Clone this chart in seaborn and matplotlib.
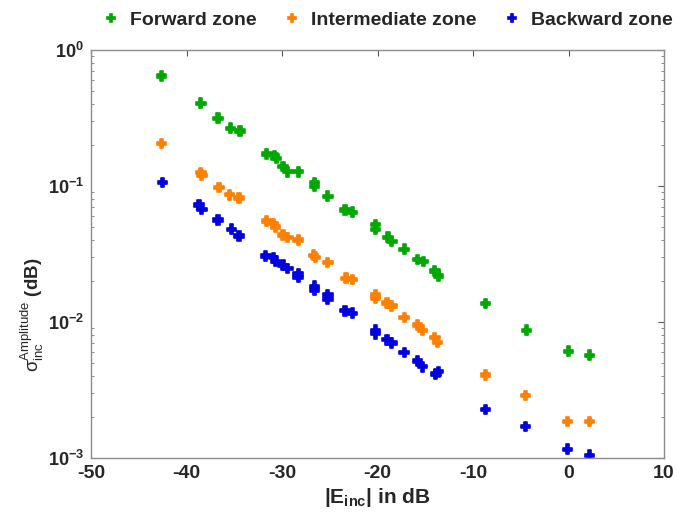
import numpy as np
import pandas as pd
import matplotlib
matplotlib.use("Agg")
import matplotlib.pyplot as plt
from matplotlib.ticker import FixedLocator, FuncFormatter, LogLocator, NullFormatter
import seaborn as sns

# Incident field level (dB) and amplitude spread per zone
fwd_x = [-42.6, -38.5, -36.7, -35.4, -34.4, -31.6, -30.8, -30.6, -29.9, -29.4,
         -28.3, -26.6, -26.6, -25.2, -23.4, -22.6, -20.2, -20.2, -18.9, -18.5,
         -17.2, -15.8, -15.2, -14.0, -13.6, -8.7, -4.4, 0.0, 2.2]
fwd_y = [0.644, 0.406, 0.315, 0.266, 0.254, 0.172, 0.168, 0.160, 0.139, 0.127,
         0.127, 0.106, 0.099, 0.084, 0.0667, 0.0641, 0.052, 0.048, 0.042, 0.039,
         0.0343, 0.0289, 0.0278, 0.0237, 0.0218, 0.0137, 0.0087, 0.0061, 0.0057]

int_x = [-42.6, -38.5, -38.4, -36.6, -35.5, -34.5, -31.6, -30.9, -30.7, -29.9,
         -29.4, -28.3, -26.7, -26.5, -25.2, -23.3, -22.6, -20.2, -20.2, -19.0,
         -18.5, -17.2, -15.8, -15.3, -14.0, -13.7, -8.7, -4.5, -0.1, 2.2]
int_y = [0.206, 0.126, 0.120, 0.0978, 0.0863, 0.0816, 0.0553, 0.053, 0.050, 0.0436,
         0.0417, 0.0401, 0.031, 0.030, 0.0273, 0.0210, 0.0206, 0.0158, 0.0150, 0.0138,
         0.0131, 0.0108, 0.0095, 0.0087, 0.0077, 0.0071, 0.00408, 0.00289, 0.00185, 0.00185]

bwd_x = [-42.5, -38.7, -38.4, -36.7, -35.3, -34.5, -31.7, -30.9, -30.7, -29.9,
         -29.4, -28.3, -28.3, -26.6, -26.6, -25.2, -25.2, -23.4, -22.6, -20.2,
         -20.2, -19.0, -18.5, -17.2, -15.8, -15.3, -13.9, -13.6, -8.7, -4.5, -0.1, 2.2]
bwd_y = [0.106, 0.0725, 0.0674, 0.0562, 0.0481, 0.0429, 0.0306, 0.0297, 0.0280, 0.0262,
         0.0248, 0.0225, 0.0212, 0.0183, 0.0172, 0.0158, 0.0146, 0.0121, 0.0116, 0.0087,
         0.0082, 0.0074, 0.0070, 0.00598, 0.00517, 0.00469, 0.00415, 0.00431, 0.00228,
         0.00170, 0.00116, 0.00105]

zones = ["Forward zone", "Intermediate zone", "Backward zone"]
colors = ["#00A800", "#FF8000", "#0000E0"]
x_ticks = [-50, -40, -30, -20, -10, 0, 10]

df = pd.concat([
    pd.DataFrame({"E": fwd_x, "sigma": fwd_y, "zone": zones[0]}),
    pd.DataFrame({"E": int_x, "sigma": int_y, "zone": zones[1]}),
    pd.DataFrame({"E": bwd_x, "sigma": bwd_y, "zone": zones[2]}),
])

sns.set_style("white")
plt.rcParams["font.family"] = ["Liberation Sans", "DejaVu Sans"]
plt.rcParams["mathtext.fontset"] = "custom"
plt.rcParams["mathtext.rm"] = "Liberation Sans"
plt.rcParams["mathtext.it"] = "Liberation Sans:italic"
plt.rcParams["mathtext.bf"] = "Liberation Sans:bold"

fig = plt.figure(figsize=(6.77, 5.14), dpi=100)
ax = fig.add_axes([91 / 677, 1 - 458 / 514, (664 - 91) / 677, (458 - 50) / 514])

sns.scatterplot(data=df, x="E", y="sigma", hue="zone", hue_order=zones,
                palette=colors, marker="P", s=48, linewidth=1.2,
                edgecolor="face", ax=ax)

ax.set_yscale("log")
ax.set_xlim(-50, 10)
ax.set_ylim(1e-3, 1)
ax.xaxis.set_major_locator(FixedLocator(x_ticks))
ax.xaxis.set_major_formatter(FuncFormatter(lambda v, p: f"{v:g}"))
ax.yaxis.set_major_locator(LogLocator(base=10, numticks=10))
ax.yaxis.set_minor_locator(LogLocator(base=10, subs=np.arange(2, 10), numticks=10))
ax.yaxis.set_minor_formatter(NullFormatter())
ax.yaxis.set_major_formatter(
    FuncFormatter(lambda v, p: r"$\mathbf{10^{%d}}$" % int(round(np.log10(v)))))

for sp in ax.spines.values():
    sp.set_visible(True)
    sp.set_color("#8c8c8c")
    sp.set_linewidth(1.0)

ax.tick_params(axis="both", which="major", direction="in", length=4, width=0.8,
               color="#555555", top=True, right=True)
ax.tick_params(axis="x", which="major", labelsize=14, pad=5)
ax.tick_params(axis="y", which="major", labelsize=13, pad=5)
ax.tick_params(axis="y", which="minor", direction="in", length=2.5, width=0.6,
               color="#777777", left=True, right=True)
for lab in ax.get_xticklabels():
    lab.set_fontweight("bold")
for t in ax.yaxis.get_major_ticks():
    t.label1.set_va("center_baseline")

ax.set_xlabel(r"|E$_{\mathbf{inc}}$| in dB", fontsize=15, fontweight="bold", labelpad=3)
ax.set_ylabel(r"$\mathrm{σ}^{\mathrm{Amplitude}}_{\mathrm{inc}}$ (dB)", fontsize=13.5,
              fontweight="bold")
ax.yaxis.set_label_coords(-0.078, 0.35)

handles, labels = ax.get_legend_handles_labels()
ax.get_legend().remove()
fig.legend(handles, labels, loc="center", bbox_to_anchor=(387 / 677, 1 - 20 / 514),
           ncol=3, frameon=False, markerscale=0.75, handlelength=1.0,
           handletextpad=0.5, columnspacing=1.3, borderaxespad=0,
           prop={"weight": "bold", "size": 14})

fig.savefig("out.png", dpi=100)
